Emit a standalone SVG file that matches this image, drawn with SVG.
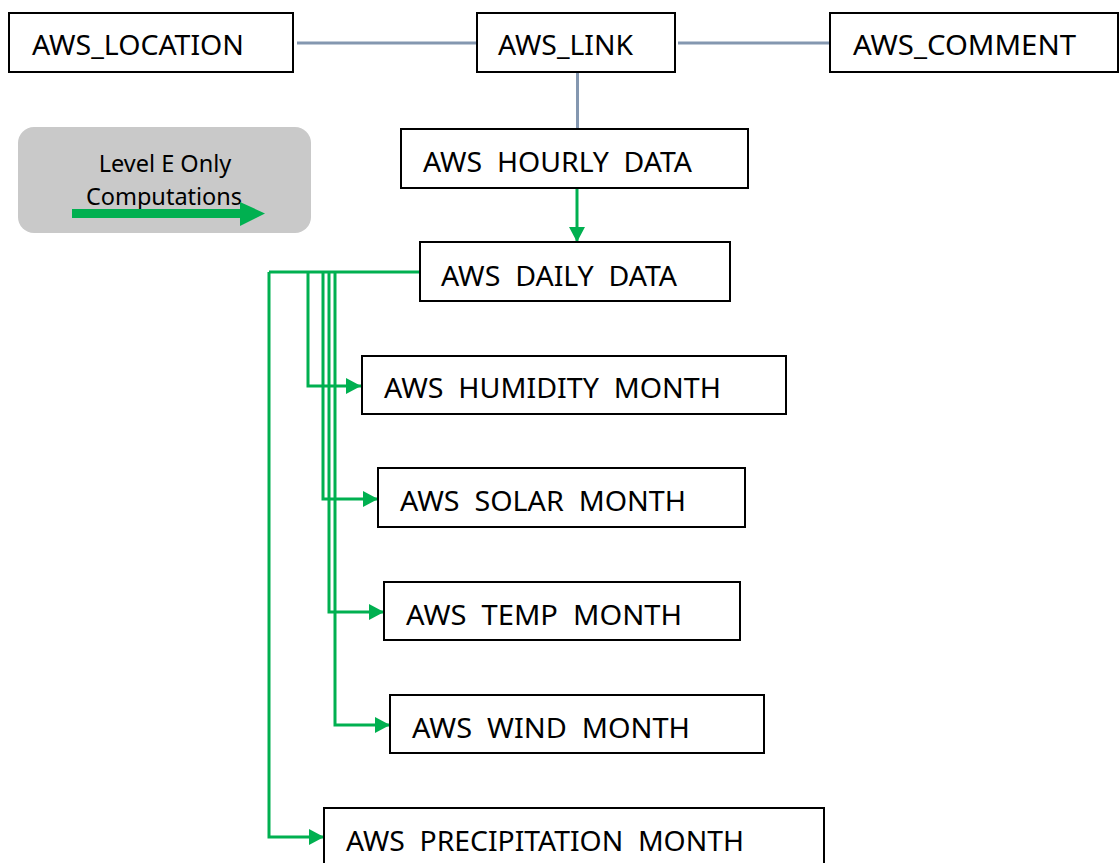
<svg xmlns="http://www.w3.org/2000/svg" width="1119" height="863" viewBox="0 0 1119 863">
<defs>
<style>
.box{fill:#fff;stroke:#000;stroke-width:2}
.t{font-family:"Noto Sans","Open Sans","Liberation Sans",sans-serif;font-size:28px;fill:#000;white-space:pre}
.lt{font-family:"Noto Sans","Open Sans","Liberation Sans",sans-serif;font-size:23.5px;fill:#000;text-anchor:middle}
.grey{fill:none;stroke:#8497b0;stroke-width:3}
.green{fill:none;stroke:#00b050;stroke-width:3}
</style>
<marker id="ah" markerUnits="userSpaceOnUse" markerWidth="16" markerHeight="16" refX="15" refY="8" orient="auto">
<path d="M0,0 L15,8 L0,16 Z" fill="#00b050"/>
</marker>
</defs>
<rect width="1119" height="863" fill="#fff"/>
<g id="connectors">
<path class="grey" d="M297,43 H477"/>
<path class="grey" d="M678,43 H830"/>
<path class="grey" d="M577.5,72 V129"/>
<path class="green" d="M577,188 V242" marker-end="url(#ah)"/>
<path class="green" d="M420,272 H269"/>
<path class="green" d="M308,272 V386 H361" marker-end="url(#ah)"/>
<path class="green" d="M323,272 V499 H378" marker-end="url(#ah)"/>
<path class="green" d="M329,272 V612 H384" marker-end="url(#ah)"/>
<path class="green" d="M335,272 V725 H390" marker-end="url(#ah)"/>
<path class="green" d="M269,272 V837 H324" marker-end="url(#ah)"/>
</g>
<g id="legend">
<rect x="18" y="127" width="293" height="106" rx="16" fill="#c9c9c9"/>
<text class="lt" x="165" y="172">Level E Only</text>
<text class="lt" x="164" y="205">Computations</text>
<path d="M72,213.5 H242" stroke="#00b050" stroke-width="9" fill="none"/>
<path d="M240,202 L265,213.5 L240,226 Z" fill="#00b050"/>
</g>
<g id="aws_location">
<rect class="box" x="9" y="13" width="284" height="59"/>
<text class="t" x="32" y="55" textLength="212" lengthAdjust="spacingAndGlyphs">AWS_LOCATION</text>
</g>
<g id="aws_link">
<rect class="box" x="477" y="13" width="198" height="59"/>
<text class="t" x="498" y="55" textLength="135" lengthAdjust="spacingAndGlyphs">AWS_LINK</text>
</g>
<g id="aws_comment">
<rect class="box" x="830" y="13" width="288" height="59"/>
<text class="t" x="853" y="55" textLength="223" lengthAdjust="spacingAndGlyphs">AWS_COMMENT</text>
</g>
<g id="aws_hourly_data">
<rect class="box" x="401" y="129" width="347" height="59"/>
<text class="t" x="423" y="172" textLength="269" lengthAdjust="spacingAndGlyphs">AWS  HOURLY  DATA</text>
</g>
<g id="aws_daily_data">
<rect class="box" x="420" y="242" width="310" height="59"/>
<text class="t" x="441" y="286" textLength="236" lengthAdjust="spacingAndGlyphs">AWS  DAILY  DATA</text>
</g>
<g id="aws_humidity_month">
<rect class="box" x="362" y="356" width="424" height="58"/>
<text class="t" x="384" y="398" textLength="337" lengthAdjust="spacingAndGlyphs">AWS  HUMIDITY  MONTH</text>
</g>
<g id="aws_solar_month">
<rect class="box" x="378" y="468" width="367" height="59"/>
<text class="t" x="400" y="511" textLength="286" lengthAdjust="spacingAndGlyphs">AWS  SOLAR  MONTH</text>
</g>
<g id="aws_temp_month">
<rect class="box" x="384" y="582" width="356" height="58"/>
<text class="t" x="406" y="625" textLength="276" lengthAdjust="spacingAndGlyphs">AWS  TEMP  MONTH</text>
</g>
<g id="aws_wind_month">
<rect class="box" x="390" y="695" width="374" height="58"/>
<text class="t" x="412" y="738" textLength="278" lengthAdjust="spacingAndGlyphs">AWS  WIND  MONTH</text>
</g>
<g id="aws_precipitation_month">
<rect class="box" x="324" y="808" width="500" height="70"/>
<text class="t" x="346" y="851" textLength="398" lengthAdjust="spacingAndGlyphs">AWS  PRECIPITATION  MONTH</text>
</g>
</svg>
